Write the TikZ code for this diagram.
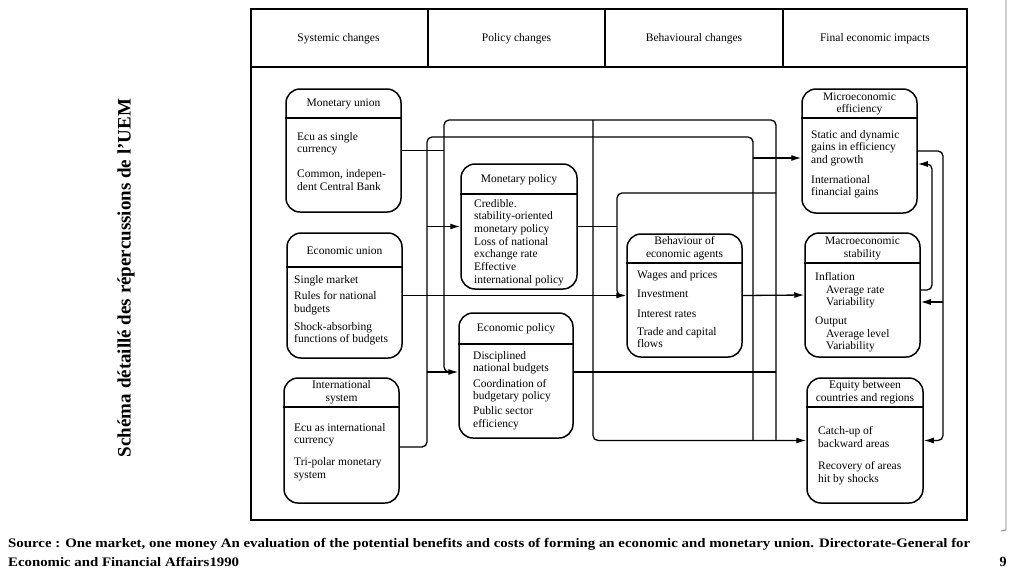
\documentclass[tikz,border=0pt]{standalone}
\usepackage{fontspec}
\setmainfont{Liberation Serif}
\usetikzlibrary{arrows.meta}
\newcommand\bodyfont{\fontsize{11.5}{12.7}\selectfont}
\begin{document}
\begin{tikzpicture}[x=1pt,y=-1pt,
  frame/.style={line width=1.3pt},
  box/.style={draw, line width=1.5pt, rounded corners=14pt, inner sep=0pt},
  hd/.style={font=\bodyfont, align=center, inner sep=0pt},
  bd/.style={font=\bodyfont, align=left, anchor=north west, inner sep=0pt},
  conn/.style={line width=1.3pt},
  arr/.style={line width=1.3pt, -{Latex[length=10pt,width=6pt]}},
  divl/.style={line width=1.2pt}]
\useasboundingbox (0,0) rectangle (1024,576);
% page edge
\draw[black!55, line width=0.8pt] (1006,0) -- (1006,530) -- (1001,531);
% outer frame and header
\draw[frame] (251,9) rectangle (967,520);
\draw[frame] (251,67) -- (967,67);
\draw[frame] (428,9) -- (428,67);
\draw[frame] (605,9) -- (605,67);
\draw[frame] (783,9) -- (783,67);
\node[hd] (h1) at (338.5,39) {Systemic changes};
\node[hd] (h2) at (516.5,39) {Policy changes};
\node[hd] (h3) at (694,39) {Behavioural changes};
\node[hd] (h4) at (875,39) {Final economic impacts};
% boxes
\node[box, minimum width=115pt, minimum height=123pt] (mu) at (343.5,150.5) {};
\node[box, minimum width=115pt, minimum height=125pt] (eu) at (344.5,295.5) {};
\node[box, minimum width=115pt, minimum height=125pt] (is) at (341.5,440.5) {};
\node[box, minimum width=116pt, minimum height=125pt] (mp) at (519,226.5) {};
\node[box, minimum width=114pt, minimum height=125pt] (ep) at (516,375.5) {};
\node[box, minimum width=115pt, minimum height=123pt] (beh) at (684.5,295.5) {};
\node[box, minimum width=115pt, minimum height=124pt] (micro) at (859.5,151) {};
\node[box, minimum width=115pt, minimum height=124pt] (macro) at (862.5,295) {};
\node[box, minimum width=116pt, minimum height=125pt] (equity) at (865,440.5) {};
% header dividers
\draw[divl] (mu.west |- 0,118) -- (mu.east |- 0,118);
\draw[divl] (eu.west |- 0,267) -- (eu.east |- 0,267);
\draw[divl] (is.west |- 0,407) -- (is.east |- 0,407);
\draw[divl] (mp.west |- 0,194) -- (mp.east |- 0,194);
\draw[divl] (ep.west |- 0,344) -- (ep.east |- 0,344);
\draw[divl] (beh.west |- 0,263) -- (beh.east |- 0,263);
\draw[divl] (micro.west |- 0,118) -- (micro.east |- 0,118);
\draw[divl] (macro.west |- 0,263) -- (macro.east |- 0,263);
\draw[divl] (equity.west |- 0,407) -- (equity.east |- 0,407);
% box headers
\node[hd] (mu-h) at (343.5,103.5) {Monetary union};
\node[hd] (eu-h) at (344.5,250.5) {Economic union};
\node[hd] (is-h) at (341.5,392.5) {International\\system};
\node[hd] (mp-h) at (519,179.5) {Monetary policy};
\node[hd] (ep-h) at (516,328.5) {Economic policy};
\node[hd] (beh-h) at (684.5,248.5) {Behaviour of\\economic agents};
\node[hd] (micro-h) at (859.5,104) {Microeconomic\\efficiency};
\node[hd] (macro-h) at (862.5,248.5) {Macroeconomic\\stability};
\node[hd] (equity-h) at (865,392.5) {Equity between\\countries and regions};
% box bodies
\node[bd] (mu-b) at (297,132) {Ecu as single\\currency\\[12pt]Common, indepen-\\dent Central Bank};
\node[bd] (eu-b) at (294,275) {Single market\\[4pt]Rules for national\\budgets\\[5pt]Shock-absorbing\\functions of budgets};
\node[bd] (is-b) at (294,423) {Ecu as international\\currency\\[9pt]Tri-polar monetary\\system};
\node[bd] (mp-b) at (474,199) {Credible.\\stability-oriented\\monetary policy\\Loss of national\\exchange rate\\Effective\\international policy};
\node[bd] (ep-b) at (473,351) {Disciplined\\national budgets\\[2.5pt]Coordination of\\budgetary policy\\[2.5pt]Public sector\\efficiency};
\node[bd] (beh-b) at (637,270) {Wages and prices\\[7pt]Investment\\[6.5pt]Interest rates\\[5.5pt]Trade and capital\\flows};
\node[bd] (micro-b) at (811,130) {Static and dynamic\\gains in efficiency\\and growth\\[7pt]International\\financial gains};
\node[bd] (macro-b) at (815,272) {Inflation\\\hspace*{11pt}Average rate\\\hspace*{11pt}Variability\\[6pt]Output\\\hspace*{11pt}Average level\\\hspace*{11pt}Variability};
\node[bd] (equity-b) at (818,426) {Catch-up of\\backward areas\\[10pt]Recovery of areas\\hit by shocks};
% connectors - left side
\draw[conn] (mu.east) -- (444,150.5);
\draw[conn, rounded corners=5pt] ([yshift=-6.5pt]is.east) -- (427,447) -- (427,137) -- (753,137) -- (753,440.5);
\draw[conn, rounded corners=5pt] (455,372) -- (444,372) -- (444,120) -- (776,120) -- (776,440.5);
\draw[arr] (427,226.5) -- (mp.west);
\draw[arr] (427,372) -- (ep.west |- 0,372);
\draw[arr] (eu.east) -- (beh.west);
% middle
\draw[conn] (mp.east) -- (617,226.5);
\draw[conn, rounded corners=5pt] (776,193) -- (617,193) -- (617,295.5) -- (624,295.5);
\draw[arr, rounded corners=5pt] (593,120) -- (593,440.5) -- (equity.west);
\draw[conn] (ep.east |- 0,372) -- (776,372);
\draw[arr] (753,158) -- (micro.west |- 0,158);
\draw[arr] (beh.east) -- (macro.west);
% right side
\draw[arr, rounded corners=5pt] (micro.east) -- (943,151) -- (943,440.5) -- (equity.east);
\draw[arr] (943,302) -- (macro.east |- 0,302);
\draw[arr, rounded corners=5pt] (macro.east |- 0,290) -- (932,290) -- (932,164) -- (micro.east |- 0,164);
% title and caption
\node[rotate=90, inner sep=0pt, font=\bfseries\fontsize{19}{21}\selectfont] (title) at (126,278) {Schéma détaillé des répercussions de l’UEM};
\node[anchor=north west, inner sep=0pt, align=left, font=\bfseries\fontsize{13}{19}\selectfont] (src) at (8,538)
  {\resizebox{962pt}{\height}{Source : One market, one money An evaluation of the potential benefits and costs of forming an economic and monetary union. Directorate-General for}\\\scalebox{1.14}[1]{Economic and Financial Affairs1990}};
\node[inner sep=0pt, font=\bfseries\fontsize{14}{16}\selectfont] (pg) at (1003,562) {9};
\end{tikzpicture}
\end{document}
